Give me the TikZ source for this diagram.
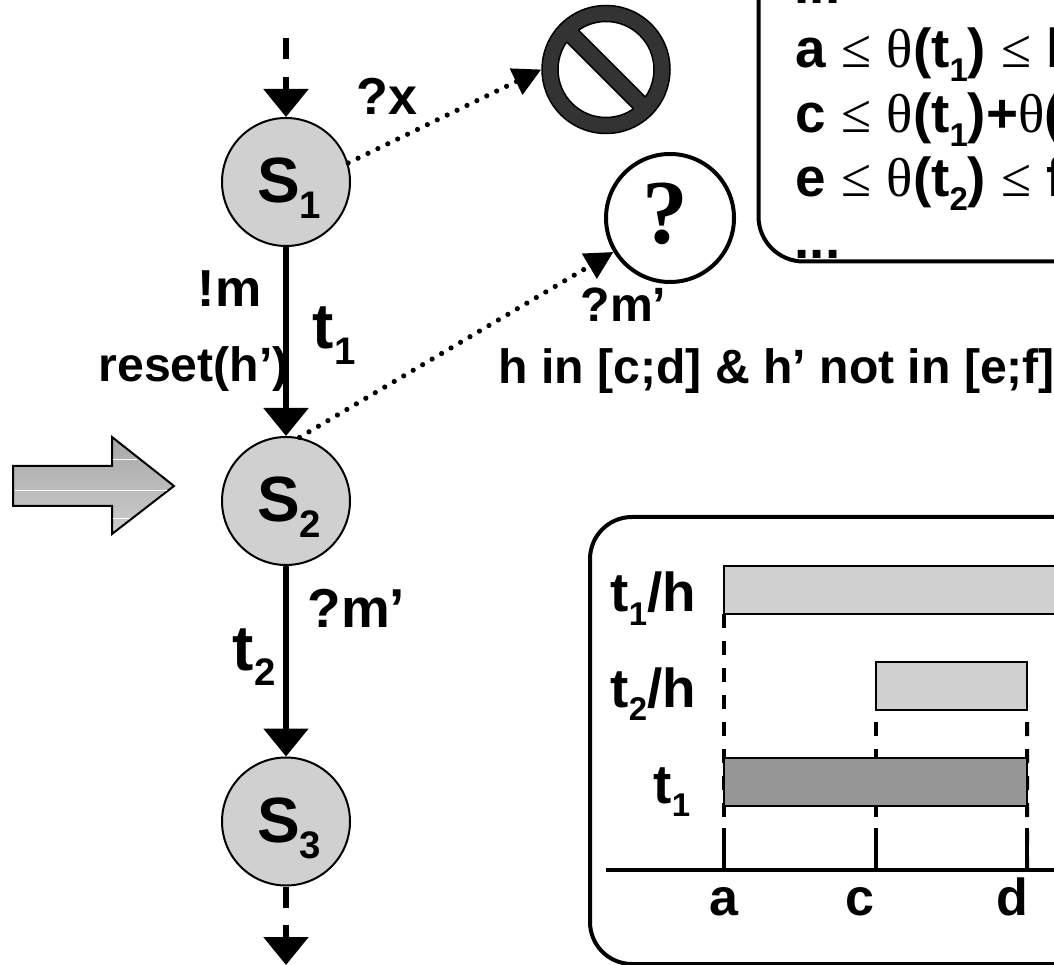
\documentclass[tikz,border=0pt]{standalone}
\usepackage{fontspec}
\setmainfont{Liberation Sans}
\newfontfamily\symb{Liberation Serif}
\usetikzlibrary{arrows.meta}
\definecolor{gris}{HTML}{D0D0D0}
\definecolor{fonce}{HTML}{969696}
\definecolor{interdit}{HTML}{333333}
\definecolor{hautfleche}{HTML}{A8A8A8}
\definecolor{basfleche}{HTML}{CCCCCC}
\newcommand{\indice}[1]{\raisebox{-.25em}{\scalebox{.6}{#1}}}
\newcommand{\nometat}[1]{\hspace*{0.06cm}S\indice{#1}}
\newcommand{\etiq}{\fontsize{15.6}{18}\bfseries\selectfont}
\newcommand{\moyen}{\fontsize{13.7}{16}\bfseries\selectfont}
\newcommand{\petit}{\fontsize{14.8}{17}\bfseries\selectfont}
\newcommand{\gros}{\fontsize{18.2}{20}\bfseries\selectfont}
\newcommand{\leqs}{{\symb\mdseries\symbol{"2264}}}
\newcommand{\thetas}{{\symb\mdseries\symbol{"03B8}}}
\tikzstyle{etat} = [circle, draw=black, line width=0.02cm, fill=gris, minimum size=1.28cm, inner sep=0pt, font=\gros, text height=0.5cm, text depth=0.08cm]
\tikzstyle{texte} = [anchor=base west, inner sep=0pt, font=\etiq]
\tikzstyle{barre} = [rectangle, draw=black, line width=0.022cm, anchor=north west, inner sep=0pt, outer sep=0pt]
\tikzstyle{fleche} = [line width=0.058cm, -{Triangle[width=0.44cm,length=0.28cm]}]
\tikzstyle{pointille} = [line width=0.052cm, line cap=round, dash pattern=on 0pt off 0.11cm, -{Triangle[width=0.28cm,length=0.28cm]}]
\tikzstyle{tirets} = [line width=0.04cm, dash pattern=on 0.14cm off 0.13cm]
\begin{document}
\begin{tikzpicture}
                \useasboundingbox (0,0) rectangle (10.54,-9.65);
                \clip (0,0) rectangle (10.54,-9.65);

                \node [etat] (s1) at (2.86,-1.82) {\nometat{1}};
                \node [etat] (s2) at (2.86,-5.01) {\nometat{2}};
                \node [etat] (s3) at (2.86,-8.215) {\nometat{3}};
                \coordinate (entree) at (2.86,-0.38);
                \coordinate (sortie) at (2.86,-9.65);

                \draw [fleche, dash pattern=on 0.21cm off 0.18cm] (entree) -- (s1);
                \draw [fleche] (s1) -- (s2);
                \draw [fleche] (s2) -- (s3);
                \draw [fleche, dash pattern=on 0.21cm off 0.17cm] (s3) -- (sortie);

                \node [circle, draw=black, line width=0.015cm, fill=interdit, minimum size=1.28cm, inner sep=0pt] (sens) at (6.06,-0.695) {};
                \node [circle, draw=black, line width=0.015cm, fill=white, minimum size=0.96cm, inner sep=0pt] (creux) at (sens) {};
                \begin{scope}[shift={(sens)}, rotate=-45]
                    \fill [interdit] (-0.54,-0.083) rectangle (0.54,0.083);
                    \draw [line width=0.015cm] (-0.473,0.083) -- (0.473,0.083);
                    \draw [line width=0.015cm] (-0.473,-0.083) -- (0.473,-0.083);
                \end{scope}

                \node [circle, draw=black, line width=0.04cm, fill=white, minimum size=1.28cm, inner sep=0pt, text depth=0.1cm, font=\fontsize{26}{28}\selectfont\symb\bfseries] (inconnu) at (6.70,-2.18) {?\hspace*{0.1cm}};

                \draw [pointille] (s1.17) -- (sens.west);
                \draw [pointille] (s2.78) -- (inconnu.211);

                \node [texte, font=\petit] (lx) at (3.56,-1.15) {?x};
                \node [texte, font=\petit] (lm) at (1.97,-3.07) {!m};
                \node [texte, font=\gros] (lt1) at (3.12,-3.49) {t\indice{1}};
                \node [texte, font=\moyen] (lreset) at (0.98,-3.82) {reset(h’)};
                \node [texte] (lm2) at (3.07,-6.27) {?m’};
                \node [texte, font=\gros] (lt2) at (2.32,-6.70) {t\indice{2}};
                \node [texte, font=\moyen] (lm3) at (5.80,-3.22) {?m’};
                \node [texte, font=\moyen] (lgarde) at (4.98,-3.84) {h in [c;d] \& h’ not in [e;f]};

                \draw [line width=0.02cm, top color=hautfleche, bottom color=basfleche] (0.13,-4.66) -- (1.12,-4.66) -- (1.12,-4.37) -- (1.74,-4.86) -- (1.12,-5.34) -- (1.12,-5.06) -- (0.13,-5.06) -- cycle;
                \draw [white, line width=0.008cm] (0.15,-4.90) -- (1.67,-4.90);
                \draw [white, line width=0.008cm] (1.13,-4.59) -- (1.37,-4.59);
                \draw [white, line width=0.008cm] (1.13,-5.18) -- (1.30,-5.18);

                \draw [line width=0.04cm, rounded corners=0.45cm] (7.585,0.6) -- (7.585,-2.615) -- (11.2,-2.615);
                \node [texte] (p1) at (7.94,-0.035) {...};
                \node [texte] (l1) at (7.95,-0.68) {a \leqs{} \thetas{}(t\indice{1}) \leqs{} b};
                \node [texte] (l2) at (7.95,-1.33) {c \leqs{} \thetas{}(t\indice{1})+\thetas{}(t\indice{2})};
                \node [texte] (l3) at (7.95,-1.97) {e \leqs{} \thetas{}(t\indice{2}) \leqs{} f};
                \node [texte] (p2) at (7.94,-2.59) {...};

                \draw [line width=0.04cm, rounded corners=0.42cm] (11.2,-5.17) -- (5.90,-5.17) -- (5.90,-9.64) -- (11.2,-9.64);

                \node [barre, fill=gris, minimum width=4cm, minimum height=0.48cm] (b1) at (7.24,-5.66) {};
                \node [barre, fill=gris, minimum width=1.51cm, minimum height=0.48cm] (b2) at (8.76,-6.62) {};

                \coordinate (axea) at (7.24,-8.70);
                \coordinate (axec) at (8.76,-8.70);
                \coordinate (axed) at (10.27,-8.70);
                \coordinate (axeg) at (6.06,-8.70);
                \coordinate (axefin) at (10.54,-8.70);

                \draw [line width=0.035cm] (axeg) -- (axefin);
                \draw [tirets] (b1.south west) -- (axea);
                \draw [tirets, dash phase=0.15cm] (b2.south west) -- (axec);
                \draw [tirets, dash phase=0.15cm] (b2.south east) -- (axed);
                \draw [line width=0.035cm] (7.24,-8.28) -- (axea);
                \draw [line width=0.035cm] (8.76,-8.28) -- (axec);
                \draw [line width=0.035cm] (10.27,-8.28) -- (axed);

                \node [barre, fill=fonce, minimum width=3.03cm, minimum height=0.48cm] (b3) at (7.24,-7.58) {};

                \node [texte] (t1h) at (6.10,-6.12) {t\indice{1}/h};
                \node [texte] (t2h) at (6.10,-7.07) {t\indice{2}/h};
                \node [texte] (t1b) at (6.53,-8.03) {t\indice{1}};
                \node [texte, font=\petit, anchor=base] (a) at (7.24,-9.15) {a};
                \node [texte, font=\petit, anchor=base] (c) at (8.60,-9.15) {c};
                \node [texte, font=\petit, anchor=base] (d) at (10.12,-9.15) {d};
            \end{tikzpicture}
\end{document}
